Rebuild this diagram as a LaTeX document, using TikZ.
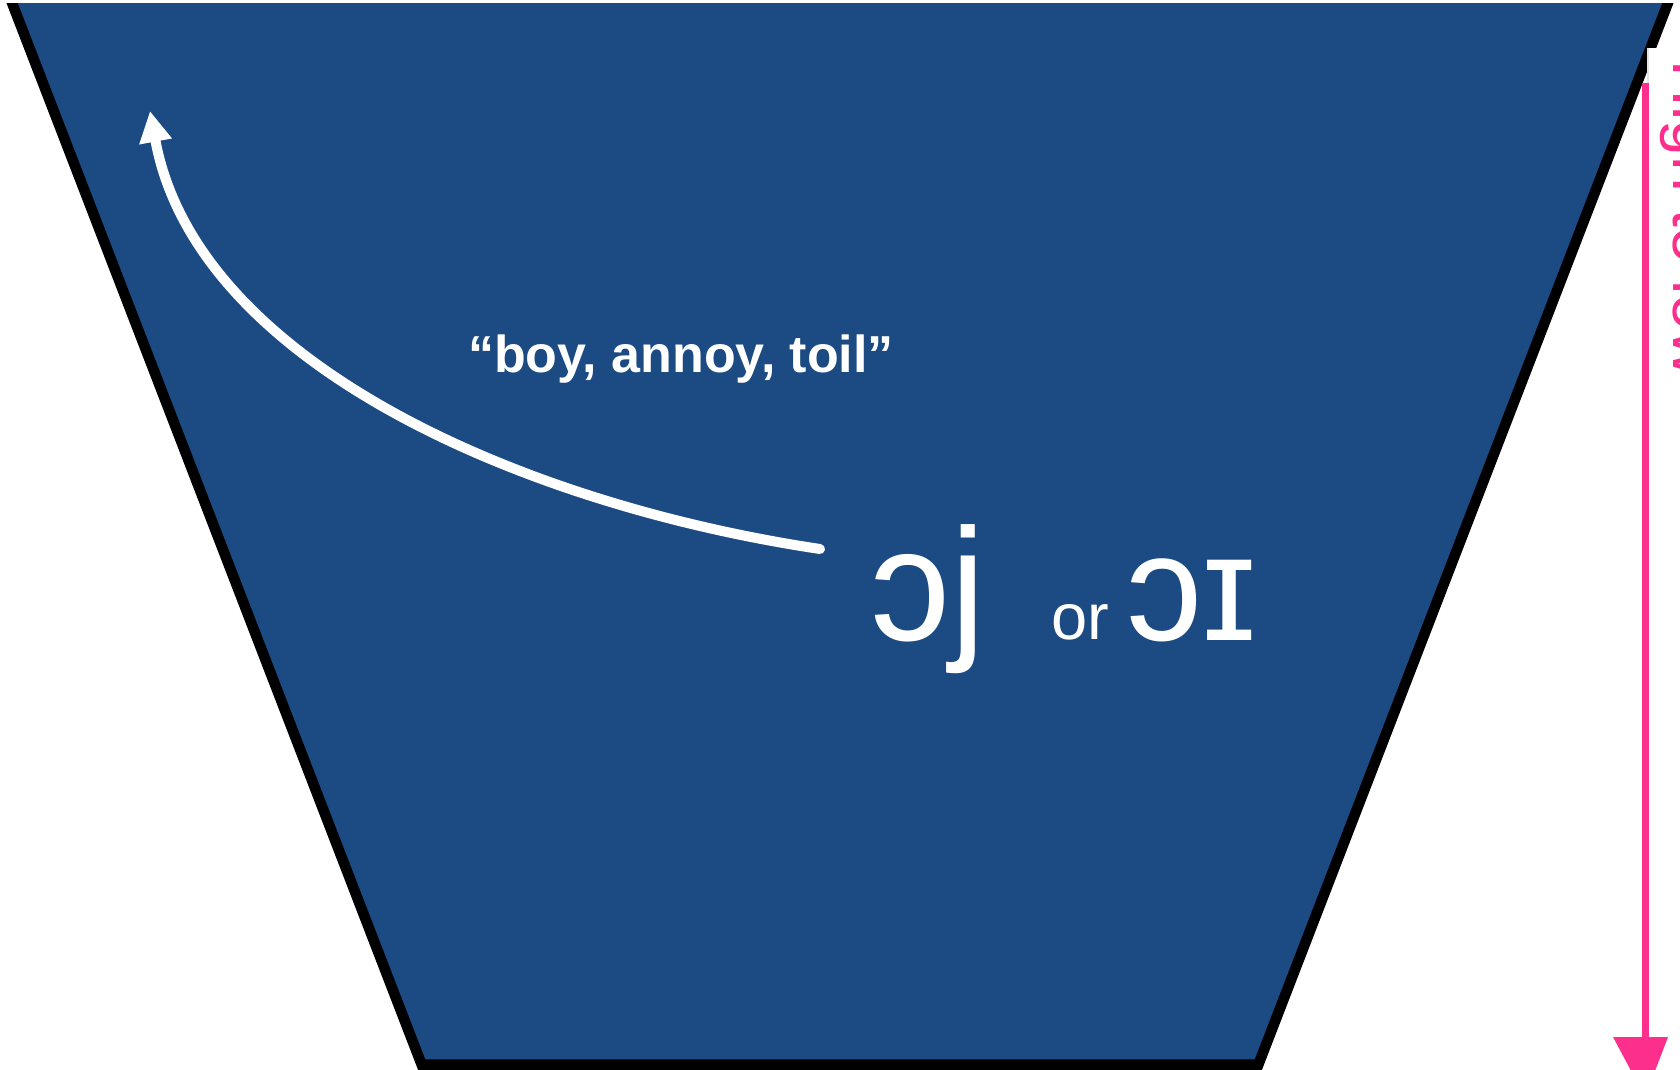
\documentclass[tikz,border=0pt]{standalone}
\usepackage{fontspec}
\newfontfamily\lsans{Liberation Sans}
\usetikzlibrary{arrows.meta}
\definecolor{funnelblue}{RGB}{27,75,130}
\definecolor{hotpink}{RGB}{252,48,140}
\begin{document}
\begin{tikzpicture}[x=1pt,y=-1pt,
  lbl/.style={text=white,inner sep=0pt,font=\lsans},
  border/.style={line width=10.5pt,draw=black,fill=funnelblue,miter limit=20}]
\useasboundingbox (0,0) rectangle (1680,1070);
\fill[white] (0,0) rectangle (1680,1070);
\begin{scope}
\clip (0,4) rectangle (1680,1070);
\draw[border] (3.2,-20) -- (421.6,1064.5) -- (1258.4,1064.5) -- (1676.8,-20) -- cycle;
\end{scope}
% text box on the right
\fill[white] (1648,48) rectangle (1680,630);
\draw[black!10, line width=1.5pt] (1648,630) -- (1648,48);
% pink arrow
\coordinate (ptop) at (1645,83);
\coordinate (pbot) at (1645,1040);
\draw[hotpink, line width=7pt] (ptop) -- (pbot);
\fill[hotpink] (1613,1037) -- (1668,1037) -- (1645,1097) -- cycle;
\node[text=hotpink, font=\lsans\fontsize{64}{64}\selectfont, rotate=-90, anchor=base west, inner sep=0pt] (ptext) at (1673,60) {High to low};
% words
\node[lbl, anchor=base, font=\lsans\bfseries\fontsize{52}{52}\selectfont] (words) at (681,372) {“boy, annoy, toil”};
% white curved arrow
\coordinate (astart) at (820,549);
\coordinate (aend) at (150,111);
\draw[white, line width=10pt, line cap=round, -{Triangle[width=31pt,length=31pt]}] (astart) .. controls (520,504) and (196,362) .. (aend);
% IPA
\node[lbl, anchor=base, font=\lsans\fontsize{160}{160}\selectfont] (oj) at (928,640) {ɔj};
\node[lbl, anchor=base, font=\lsans\fontsize{65}{65}\selectfont] (or) at (1080,639) {or};
\node[lbl, anchor=base, font=\lsans\fontsize{152}{152}\selectfont] (oi) at (1192,640) {ɔɪ};
\end{tikzpicture}
\end{document}
